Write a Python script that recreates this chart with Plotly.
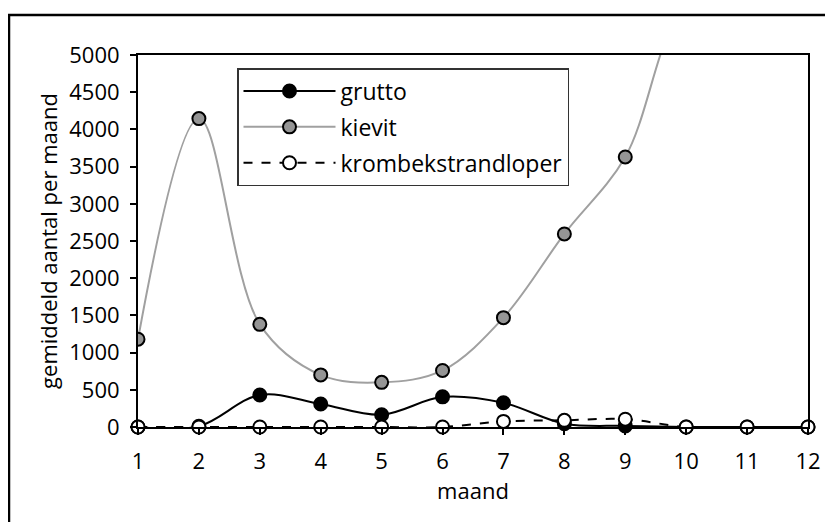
import plotly.graph_objects as go

maand = [1, 2, 3, 4, 5, 6, 7, 8, 9, 10, 11, 12]
grutto = [0, 10, 430, 310, 165, 405, 325, 45, 15, 0, 0, 0]
kievit = [1180, 4145, 1380, 700, 600, 760, 1470, 2595, 3630, 5700, 6000, 5500]
krombekstrandloper = [0, 0, 0, 0, 0, 0, 75, 90, 105, 0, 0, 0]

FONT = "Open Sans"
FS = 22

# figure pixel geometry (page is offset by 8px body margin)
W, H = 825, 514
L, R, T, B = 130, 25, 47, 95
PW, PH = W - L - R, H - T - B


def px(x):
    return (x - L) / PW


def py(y):
    return (H - B - y) / PH


fig = go.Figure()
fig.add_trace(go.Scatter(
    x=maand, y=grutto, name="grutto", mode="lines+markers", legendgroup="a",
    line=dict(color="black", width=2, shape="spline", smoothing=1),
    marker=dict(size=13, color="black", line=dict(color="black", width=2)),
    cliponaxis=False))
fig.add_trace(go.Scatter(
    x=maand, y=kievit, name="kievit", mode="lines+markers", legendgroup="b",
    line=dict(color="#a0a0a0", width=2, shape="spline", smoothing=1),
    marker=dict(size=13, color="#959595", line=dict(color="black", width=2)),
    cliponaxis=True))
fig.add_trace(go.Scatter(
    x=maand, y=krombekstrandloper, name="krombekstrandloper", mode="lines+markers",
    legendgroup="c",
    line=dict(color="black", width=2, dash="dash", shape="spline", smoothing=1),
    marker=dict(size=13, color="white", line=dict(color="black", width=2)),
    cliponaxis=False))

fig.update_layout(
    width=W, height=H,
    margin=dict(l=L, r=R, t=T, b=B),
    paper_bgcolor="white", plot_bgcolor="white",
    font=dict(family=FONT, size=FS, color="black"),
    showlegend=True,
    legend=dict(
        x=(237 - 138) / PW, y=(427 - 68) / PH, xanchor="left", yanchor="top",
        bgcolor="white", bordercolor="#333333", borderwidth=1.5,
        font=dict(family=FONT, size=23, color="black"),
        itemwidth=92, tracegroupgap=3,
    ),
    xaxis=dict(
        range=[1, 12], tickvals=maand, ticktext=[str(m) for m in maand],
        showgrid=False, zeroline=False,
        showline=True, linecolor="black", linewidth=2, mirror=True,
        ticks="outside", ticklen=6, tickcolor="black", tickwidth=1.5,
        ticklabelstandoff=8,
        title=dict(text="maand", standoff=4, font=dict(family=FONT, size=FS)),
        tickfont=dict(family=FONT, size=FS),
    ),
    yaxis=dict(
        range=[0, 5000], tickvals=list(range(0, 5001, 500)),
        showgrid=False, zeroline=False,
        showline=True, linecolor="black", linewidth=2, mirror=True,
        ticks="outside", ticklen=6, tickcolor="black", tickwidth=1.5,
        ticklabelstandoff=6,
        title=dict(text="gemiddeld aantal per maand", standoff=6,
                   font=dict(family=FONT, size=FS)),
        tickfont=dict(family=FONT, size=FS),
    ),
    shapes=[
        dict(type="line", xref="paper", yref="paper",
             x0=px(0), x1=px(W + 20), y0=py(7), y1=py(7),
             line=dict(color="black", width=2.5)),
        dict(type="line", xref="paper", yref="paper",
             x0=px(1), x1=px(1), y0=py(6), y1=py(H + 20),
             line=dict(color="black", width=2.5)),
    ],
)

fig.write_html("out.html")
